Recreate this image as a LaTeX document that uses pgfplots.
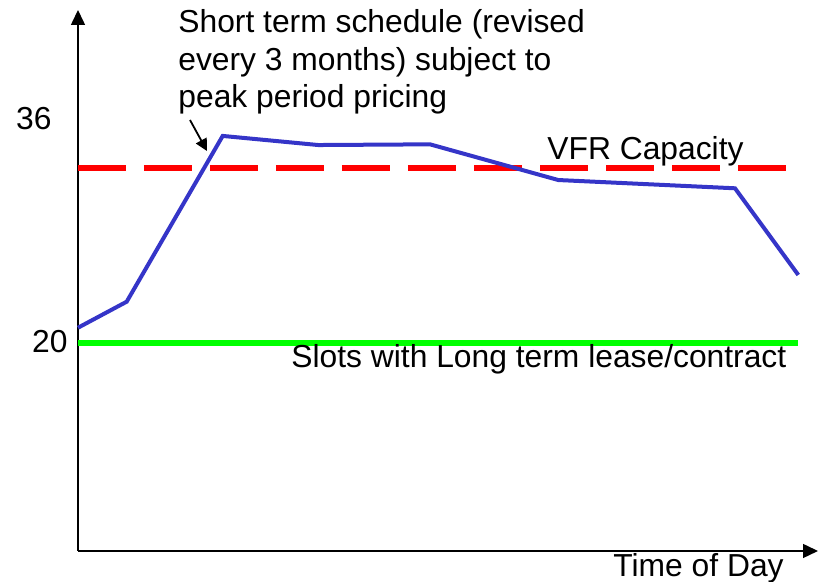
\documentclass[border=0pt]{standalone}
\usepackage{fontspec}
\setmainfont{Liberation Sans}
\usepackage{pgfplots}
\pgfplotsset{compat=1.18}
\usetikzlibrary{arrows.meta}
\definecolor{bl}{HTML}{3535C8}
\definecolor{gr}{HTML}{00FF00}
\definecolor{rd}{HTML}{FF0000}
\begin{document}
\begin{tikzpicture}[every node/.style={font=\fontsize{15.9}{18.75}\selectfont, inner sep=0pt}]
\useasboundingbox (-39pt,-15.5pt) rectangle (371.5pt,275.5pt);
\begin{axis}[
  at={(0,0)}, anchor=south west,
  scale only axis, width=370pt, height=270.5pt,
  xmin=0, xmax=740, ymin=5.143, ymax=43.786,
  axis lines=left,
  axis line style={line width=0.75pt, -{Triangle[length=7.5pt,width=7pt]}},
  xtick=\empty, ytick=\empty,
  clip=false,
]
\addplot[gr, line width=2.8pt] coordinates {(0,20) (720.3,20)};
\addplot[rd, line width=3pt, dash pattern=on 24pt off 9pt] coordinates {(0,32.5) (708,32.5)};
\addplot[bl, line width=2pt] coordinates {
 (0,21.09) (48.7,22.95) (144.7,34.79) (240.3,34.14) (352,34.19) (480.3,31.64) (657,31.05) (720.3,24.86)};
\end{axis}
\node[anchor=base west] at (50pt,259pt) {Short term schedule (revised};
\node[anchor=base west] at (50pt,240pt) {every 3 months) subject to};
\node[anchor=base west] at (50pt,221.5pt) {peak period pricing};
\node[anchor=base west] at (234.5pt,195.5pt) {VFR Capacity};
\node[anchor=base west] at (106.5pt,91.5pt) {Slots with Long term lease/contract};
\node[anchor=base west] at (267.5pt,-13pt) {Time of Day};
\node[anchor=base east] at (-13pt,210.5pt) {36};
\node[anchor=base east] at (-5pt,99pt) {20};
\draw[line width=0.9pt, -{Triangle[length=6pt,width=6pt]}] (56pt,215.5pt) -- (64.5pt,200pt);
\end{tikzpicture}
\end{document}
